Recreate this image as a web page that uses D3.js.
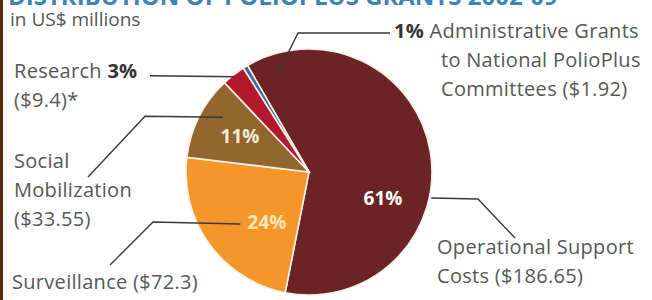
<!DOCTYPE html>
<html>
<head>
<meta charset="utf-8">
<script src="https://cdn.jsdelivr.net/npm/d3@7"></script>
<style>
  body { margin: 0; background: #fff; }
  svg { display: block; }
  text { font-family: "Open Sans", sans-serif; }
</style>
</head>
<body>
<svg width="652" height="300"></svg>
<script>
// chart data
var categories = ["Operational Support Costs", "Surveillance", "Social Mobilization", "Research", "Administrative Grants"];
var amounts = [186.65, 72.3, 33.55, 9.4, 1.92];
var percents = ["61%", "24%", "11%", "3%", "1%"];
var colors = ["#6b2325", "#f5962a", "#93652f", "#b3192c", "#3566a4"];

var svg = d3.select("svg"),
    width = +svg.attr("width"),
    height = +svg.attr("height");

var cx = 309, cy = 172, radius = 123;

// left border strip
svg.append("rect").attr("x", 0).attr("y", 0).attr("width", 3).attr("height", height).attr("fill", "#5a2a0c");

// title (cut off at top in the original)
svg.append("text")
    .attr("x", 8).attr("y", 5)
    .attr("font-size", 24).attr("font-weight", "bold")
    .attr("fill", "#3f84b8")
    .text("DISTRIBUTION OF POLIOPLUS GRANTS 2002-09");

svg.append("text")
    .attr("x", 10).attr("y", 26)
    .attr("font-size", 19)
    .attr("fill", "#555")
    .text("in US$ millions");

var data = categories.map(function(c, i) {
  return {name: c, value: amounts[i], pct: percents[i], color: colors[i]};
});

var pie = d3.pie()
    .sort(null)
    .value(function(d) { return d.value; })
    .startAngle(-30 * Math.PI / 180)
    .endAngle(330 * Math.PI / 180);

var arcs = pie(data);

var arc = d3.arc().innerRadius(0).outerRadius(radius);

var g = svg.append("g").attr("transform", "translate(" + cx + "," + cy + ")");

g.selectAll("path")
  .data(arcs)
  .enter().append("path")
    .attr("d", arc)
    .attr("fill", function(d) { return d.data.color; })
    .attr("stroke", "#fbf1e4")
    .attr("stroke-width", 1.6);

// point on the pie at angle a (radians, clockwise from top) and radius r
function pt(a, r) {
  return [cx + Math.sin(a) * r, cy - Math.cos(a) * r];
}
function mid(d) { return (d.startAngle + d.endAngle) / 2; }

// inside labels
var insideIdx = [0, 1, 2];
var insideCol = ["#fff", "#fde7b8", "#f6ecd8"];
var insidePos = [[383, 198], [267, 222], [240, 136]];

insideIdx.forEach(function(i, k) {
  svg.append("text")
    .attr("x", insidePos[k][0]).attr("y", insidePos[k][1])
    .attr("dy", "0.36em")
    .attr("text-anchor", "middle")
    .attr("font-size", 19).attr("font-weight", "bold")
    .attr("fill", insideCol[k])
    .text(arcs[i].data.pct);
});

var line = d3.line();
var leader = function(pts) {
  svg.append("path")
    .attr("d", line(pts))
    .attr("fill", "none")
    .attr("stroke", "#3a3a3a")
    .attr("stroke-width", 1.4);
};

// leaders
var pOp = pt(102 * Math.PI / 180, radius + 2);
leader([pOp, [478, pOp[1] + 1], [515, 238]]);

var pSurv = pt(mid(arcs[1]) - 0.02, radius * 0.7);
leader([[110, 265], [153, pSurv[1] - 2], pSurv]);

var pSoc = pt(mid(arcs[2]) + 0.1, radius * 0.83);
leader([[88, 177], [145, pSoc[1] - 1], pSoc]);

var pRes = pt(mid(arcs[3]), radius * 0.98);
leader([[150, pRes[1] - 1], pRes]);

var pAdm = pt(arcs[4].endAngle + 0.22, radius * 0.84);
leader([[390, 33], [298, 33], pAdm]);

// outside labels
function label(x, y, lines) {
  var t = svg.append("text")
    .attr("x", x).attr("y", y)
    .attr("font-size", 20)
    .attr("letter-spacing", 0.3)
    .attr("fill", "#575757");
  lines.forEach(function(s, i) {
    var ts = t.append("tspan").attr("x", x).attr("dy", i == 0 ? 0 : 29);
    if (typeof s == "string") ts.text(s);
    else s(ts);
  });
}

label(394, 38, [function(ts) {
  ts.append("tspan").attr("font-weight", "bold").attr("fill", "#333").text(arcs[4].data.pct);
  ts.append("tspan").text(" Administrative Grants");
}]);
label(441, 67, ["to National PolioPlus", "Committees ($" + amounts[4] + ")"]);

label(14, 78, [function(ts) {
  ts.append("tspan").text("Research ");
  ts.append("tspan").attr("font-weight", "bold").attr("fill", "#333").text(arcs[3].data.pct);
}]);
label(14, 107, ["($" + amounts[3] + ")*"]);

label(14, 168, ["Social", "Mobilization", "($" + amounts[2] + ")"]);

label(12, 289, ["Surveillance ($" + amounts[1] + ")"]);

label(437, 254, ["Operational Support", "Costs ($" + amounts[0] + ")"]);
</script>
</body>
</html>
